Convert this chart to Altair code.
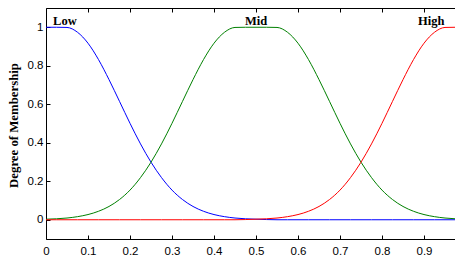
import altair as alt
import pandas as pd

x_vals = [0.0, 0.025, 0.05, 0.075, 0.1, 0.125, 0.15, 0.175, 0.2, 0.225,
          0.25, 0.275, 0.3, 0.325, 0.35, 0.375, 0.4, 0.425, 0.45, 0.475,
          0.5, 0.525, 0.55, 0.575, 0.6, 0.625, 0.65, 0.675, 0.7, 0.725,
          0.75, 0.775, 0.8, 0.825, 0.85, 0.875, 0.9, 0.925, 0.95, 0.975, 1.0]

low = [1.0, 1.0, 0.999, 0.974, 0.917, 0.832, 0.728, 0.615, 0.501, 0.394,
       0.299, 0.219, 0.154, 0.105, 0.069, 0.044, 0.027, 0.016, 0.009, 0.005,
       0.003, 0.001, 0.0, 0.0, 0.0, 0.0, 0.0, 0.0, 0.0, 0.0,
       0.0, 0.0, 0.0, 0.0, 0.0, 0.0, 0.0, 0.0, 0.0, 0.0, 0.0]

mid = [0.003, 0.005, 0.009, 0.016, 0.027, 0.044, 0.069, 0.105, 0.154, 0.219,
       0.299, 0.394, 0.501, 0.615, 0.728, 0.832, 0.917, 0.974, 0.999, 1.0,
       1.0, 1.0, 0.999, 0.974, 0.917, 0.832, 0.728, 0.615, 0.501, 0.394,
       0.299, 0.219, 0.154, 0.105, 0.069, 0.044, 0.027, 0.016, 0.009, 0.005, 0.003]

high = [0.0, 0.0, 0.0, 0.0, 0.0, 0.0, 0.0, 0.0, 0.0, 0.0,
        0.0, 0.0, 0.0, 0.0, 0.0, 0.0, 0.0, 0.0, 0.0, 0.001,
        0.003, 0.005, 0.009, 0.016, 0.027, 0.044, 0.069, 0.105, 0.154, 0.219,
        0.299, 0.394, 0.501, 0.615, 0.728, 0.832, 0.917, 0.974, 0.999, 1.0, 1.0]

series_names = ["Low", "Mid", "High"]
series_colors = ["#0000ff", "#008000", "#ff0000"]

label_x = [0.045, 0.5, 0.917]
label_y = [1.01, 1.01, 1.01]

x_ticks = [0, 0.1, 0.2, 0.3, 0.4, 0.5, 0.6, 0.7, 0.8, 0.9, 1]
y_ticks = [0, 0.2, 0.4, 0.6, 0.8, 1]

rows = []
for name, ys in zip(series_names, [low, mid, high]):
    for xv, yv in zip(x_vals, ys):
        rows.append({"x": xv, "y": yv, "series": name})
df = pd.DataFrame(rows)

labels_df = pd.DataFrame({"x": label_x, "y": label_y, "label": series_names})

xscale = alt.Scale(domain=[0, 1], nice=False, zero=False)
yscale = alt.Scale(domain=[-0.1, 1.1], nice=False, zero=False)

tick_font = "Liberation Sans"

ax_bottom = alt.Axis(values=x_ticks, format="~g", orient="bottom", offset=-4,
                     tickSize=4, domain=False, grid=False, labelPadding=6,
                     title=None, labelFont=tick_font, labelFontSize=11.5,
                     labelColor="black", tickColor="black", labelFlush=False,
                     labelOverlap=False)
ax_left = alt.Axis(values=y_ticks, format="~g", orient="left", offset=-4,
                   tickSize=4, domain=False, grid=False, labelPadding=3,
                   title="Degree of Membership", titleFont="Liberation Serif",
                   titleFontWeight="bold", titleFontSize=12.8, titleColor="black",
                   titleX=-33, titleY=117, titleBaseline="alphabetic",
                   labelFont=tick_font, labelFontSize=11.5,
                   labelColor="black", tickColor="black", labelFlush=False,
                   labelOverlap=False)
ax_top = alt.Axis(values=x_ticks, orient="top", offset=-4, tickSize=4,
                  domain=False, grid=False, labels=False, title=None,
                  tickColor="black")
ax_right = alt.Axis(values=y_ticks, orient="right", offset=-4, tickSize=4,
                    domain=False, grid=False, labels=False, title=None,
                    tickColor="black")

layers = []
for i, (name, col) in enumerate(zip(series_names, series_colors)):
    layers.append(
        alt.Chart(df).transform_filter(alt.datum.series == name)
        .mark_line(color=col, strokeWidth=1, interpolate="monotone")
        .encode(
            x=alt.X("x:Q", scale=xscale, axis=ax_bottom if i == 0 else None),
            y=alt.Y("y:Q", scale=yscale, axis=ax_left if i == 0 else None),
        )
    )

text = alt.Chart(labels_df).mark_text(
    font="Liberation Serif", fontWeight="bold", fontSize=12.5,
    baseline="alphabetic", align="center", color="black"
).encode(
    x=alt.X("x:Q", scale=xscale, axis=ax_top),
    y=alt.Y("y:Q", scale=yscale, axis=ax_right),
    text="label:N",
)

chart = alt.layer(*layers, text).resolve_scale(
    x="shared", y="shared"
).resolve_axis(
    x="independent", y="independent"
).properties(
    width=420, height=231,
    autosize=alt.AutoSizeParams(type="none"),
    padding={"left": 38, "top": 0, "right": -11, "bottom": 16},
    background="white",
).configure_view(
    stroke="black", strokeWidth=1
)

chart.save("out.html", embed_options={"renderer": "svg", "actions": False})
